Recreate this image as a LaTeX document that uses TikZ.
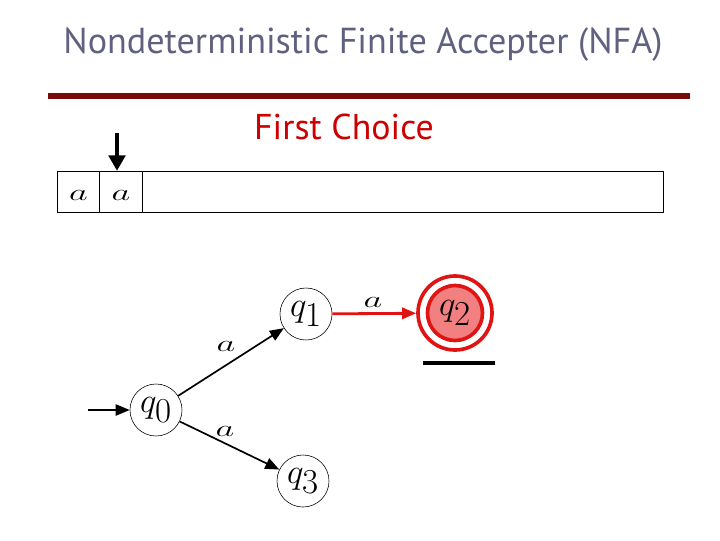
\documentclass[tikz,border=0pt]{standalone}
\usepackage{fontspec}
\setmainfont{PT Sans}
\usetikzlibrary{arrows.meta}
\definecolor{titlegray}{RGB}{96,96,128}
\definecolor{rulered}{RGB}{120,10,10}
\definecolor{choicered}{RGB}{204,0,0}
\definecolor{ringred}{RGB}{225,20,20}
\definecolor{fillred}{RGB}{242,128,128}
\newcommand{\stname}[1]{$q_{\textstyle #1}$}
\newcommand{\symA}{\scalebox{1.8}[1.15]{$a$}}
\tikzset{
  state/.style={circle, draw, thin, minimum size=1.3cm, inner sep=0pt,
    font=\fontsize{27}{30}\selectfont},
  cell/.style={draw, thin, minimum height=1.025cm, inner sep=0pt},
  sym/.style={font=\fontsize{14}{16}\selectfont},
  trans/.style={-{Triangle[length=10pt,width=8pt]}, line width=1.2pt},
}
\begin{document}
\begin{tikzpicture}[x=0.025cm, y=-0.025cm]
    % page frame, 720 x 540 px
    \useasboundingbox (0,0) rectangle (720,540);

    % heading and rule
    \node[titlegray, font=\fontsize{25.7}{28}\selectfont] (title) at (363,45)
      {Nondeterministic Finite Accepter (NFA)};
    \draw[rulered, line width=4pt] (48,96) -- (690,96);
    \node[choicered, font=\fontsize{25.5}{28}\selectfont] (choice) at (344,127) {First Choice};

    % input tape
    \def\cw{42.5} % cell width in px
    \node[cell, minimum width=\cw*0.025cm] (cell1) at (78.5,191.5) {};
    \node[cell, minimum width=\cw*0.025cm] (cell2) at (121,191.5) {};
    \node[cell, minimum width=13.025cm, anchor=west] (rest) at (142,191.5) {};
    \foreach \c in {cell1,cell2} {
      \node[sym] at ([yshift=-3pt]\c.center) {\symA};
    }

    % read head
    \coordinate (headtop) at (117,133);
    \draw[-{Triangle[length=11pt,width=12pt]}, line width=2.2pt]
      (headtop) -- (headtop |- cell2.north);

    % states
    \node[state] (q0) at (156,410) {\stname{0}};
    \node[state] (q1) at (306,314) {\stname{1}};
    \node[state] (q3) at (303,481) {\stname{3}};
    \fill[fillred, draw=ringred, line width=2.6pt] (455,313) circle (27.5);
    \node[state, draw=ringred, line width=2.6pt, minimum size=1.85cm] (q2) at (455,313) {\stname{2}};

    % accepting mark
    \draw[line width=3.5pt] (423,363) -- (495,363);

    % transitions
    \coordinate (start) at (88,410);
    \draw[trans] (start) -- (q0);
    \draw[trans] (q0) -- (q1);
    \draw[trans] (q0) -- (q3);
    \draw[trans, ringred, line width=2pt] (q1) -- (q2);
    \node[sym] at (226,346) {\symA};
    \node[sym] at (225,431) {\symA};
    \node[sym] at (373,302) {\symA};
\end{tikzpicture}
\end{document}
